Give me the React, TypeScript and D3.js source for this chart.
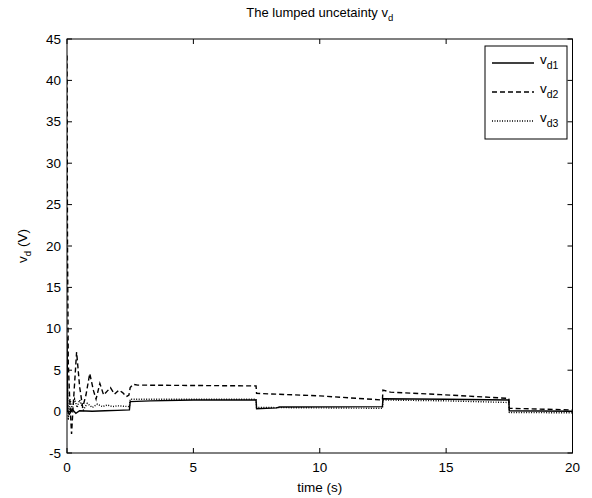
import React from "react";
import * as d3 from "d3";

// Time samples and values for each lumped uncertainty component (V)
const vd1T = [0, 0.03, 0.1, 0.2, 0.35, 0.5, 1.0, 1.5, 2.0, 2.47, 2.5, 3.3, 5.0, 7.48, 7.5, 8.3, 8.4, 12.48, 12.5, 15.0, 17.48, 17.5, 20];
const vd1V = [9, 0, -0.3, 0.3, -0.2, 0.1, 0.05, 0.1, 0.15, 0.2, 1.2, 1.3, 1.4, 1.4, 0.35, 0.45, 0.55, 0.6, 1.55, 1.5, 1.4, 0.1, 0.05];

const vd2T = [0, 0.02, 0.05, 0.1, 0.18, 0.25, 0.38, 0.5, 0.62, 0.75, 0.9, 1.05, 1.15, 1.3, 1.45, 1.6, 1.72, 1.88, 2.05, 2.2, 2.35, 2.45, 2.5, 2.62, 2.8, 7.48, 7.5, 10.0, 12.48, 12.5, 12.8, 14.8, 17.48, 17.5, 20];
const vd2V = [43, 20, 6, 2, -2.7, 1, 7.2, 3, 0.5, 2, 4.6, 2.5, 1.5, 3.4, 2.0, 2.5, 2.9, 2.1, 2.6, 2.3, 1.8, 2.0, 2.9, 3.3, 3.2, 3.1, 2.2, 1.9, 1.4, 2.6, 2.35, 2.05, 1.6, 0.4, 0.2];

const vd3T = [0, 0.05, 0.12, 0.2, 0.3, 0.4, 0.5, 0.65, 0.8, 1.0, 1.2, 1.4, 1.6, 1.8, 2.0, 2.47, 2.5, 7.48, 7.5, 12.48, 12.5, 15.0, 17.48, 17.5, 20];
const vd3V = [5, -1, 1.5, 0.3, 1.5, 0.5, 1.4, 0.2, 1.0, 0.5, 0.9, 0.6, 0.8, 0.6, 0.7, 0.6, 1.5, 1.5, 0.5, 0.4, 1.4, 1.3, 1.1, -0.1, -0.15];

const xTicks = [0, 5, 10, 15, 20];
const yTicks = [-5, 0, 5, 10, 15, 20, 25, 30, 35, 40, 45];

const seriesNames = ["d1", "d2", "d3"];
const dashes = ["none", "5,3", "1,1.5"];

const W = 592;
const H = 498;
const M = { left: 67, right: 572.5, top: 39, bottom: 453 };
const FONT = "'Liberation Sans', Arial, Helvetica, sans-serif";

export default function App() {
  const x = d3.scaleLinear().domain([0, 20]).range([M.left, M.right]);
  const y = d3.scaleLinear().domain([-5, 45]).range([M.bottom, M.top]);

  const line = d3
    .line<[number, number]>()
    .x((d) => x(d[0]))
    .y((d) => y(d[1]));

  const series: [number, number][][] = [
    vd1T.map((t, i) => [t, vd1V[i]]),
    vd2T.map((t, i) => [t, vd2V[i]]),
    vd3T.map((t, i) => [t, vd3V[i]]),
  ];

  const tickLen = 5;
  const legend = { x: 485, y: 46, w: 82, h: 93 };
  const legendRows = [63, 92, 121];

  return (
    <svg
      width={W}
      height={H}
      style={{ position: "absolute", left: 0, top: 0, background: "#fff" }}
      fontFamily={FONT}
    >
      <rect x={0} y={0} width={W} height={H} fill="#fff" />
      <defs>
        <clipPath id="plot-clip">
          <rect x={M.left} y={M.top} width={M.right - M.left} height={M.bottom - M.top} />
        </clipPath>
      </defs>

      {/* data lines */}
      <g clipPath="url(#plot-clip)">
        {series.map((s, i) => (
          <path
            key={i}
            d={line(s) ?? ""}
            fill="none"
            stroke="#000"
            strokeWidth={1.4}
            strokeDasharray={dashes[i]}
          />
        ))}
      </g>

      {/* axes box */}
      <rect
        x={M.left}
        y={M.top}
        width={M.right - M.left}
        height={M.bottom - M.top}
        fill="none"
        stroke="#000"
        strokeWidth={1}
      />

      {/* x ticks */}
      {xTicks.map((t) => (
        <g key={"x" + t}>
          <line x1={x(t)} x2={x(t)} y1={M.bottom} y2={M.bottom - tickLen} stroke="#000" />
          <line x1={x(t)} x2={x(t)} y1={M.top} y2={M.top + tickLen} stroke="#000" />
          <text x={x(t)} y={472} textAnchor="middle" fontSize={13.5} fill="#000">
            {t}
          </text>
        </g>
      ))}

      {/* y ticks */}
      {yTicks.map((v) => (
        <g key={"y" + v}>
          <line x1={M.left} x2={M.left + tickLen} y1={y(v)} y2={y(v)} stroke="#000" />
          <line x1={M.right} x2={M.right - tickLen} y1={y(v)} y2={y(v)} stroke="#000" />
          <text x={61} y={y(v) + 4.5} textAnchor="end" fontSize={13.5} fill="#000">
            {v}
          </text>
        </g>
      ))}

      {/* axis labels */}
      <text x={(M.left + M.right) / 2} y={492} textAnchor="middle" fontSize={13.5} fill="#000">
        time (s)
      </text>
      <text
        transform={`translate(27, ${(M.top + M.bottom) / 2}) rotate(-90)`}
        textAnchor="middle"
        fontSize={13.5}
        fill="#000"
      >
        v<tspan fontSize={9.5} dy={4}>d</tspan>
        <tspan dy={-4}> (V)</tspan>
      </text>

      {/* title */}
      <text x={(M.left + M.right) / 2} y={17} textAnchor="middle" fontSize={13} fill="#000">
        The lumped uncetainty v<tspan fontSize={9.5} dy={4}>d</tspan>
      </text>

      {/* legend */}
      <rect x={legend.x} y={legend.y} width={legend.w} height={legend.h} fill="#fff" stroke="#000" />
      {seriesNames.map((n, i) => (
        <g key={n}>
          <line
            x1={492}
            x2={534}
            y1={legendRows[i]}
            y2={legendRows[i]}
            stroke="#000"
            strokeWidth={1.4}
            strokeDasharray={dashes[i]}
          />
          <text x={540} y={legendRows[i] + 1} fontSize={13.5} fill="#000">
            v<tspan fontSize={10.5} dy={5}>{n}</tspan>
          </text>
        </g>
      ))}
    </svg>
  );
}
